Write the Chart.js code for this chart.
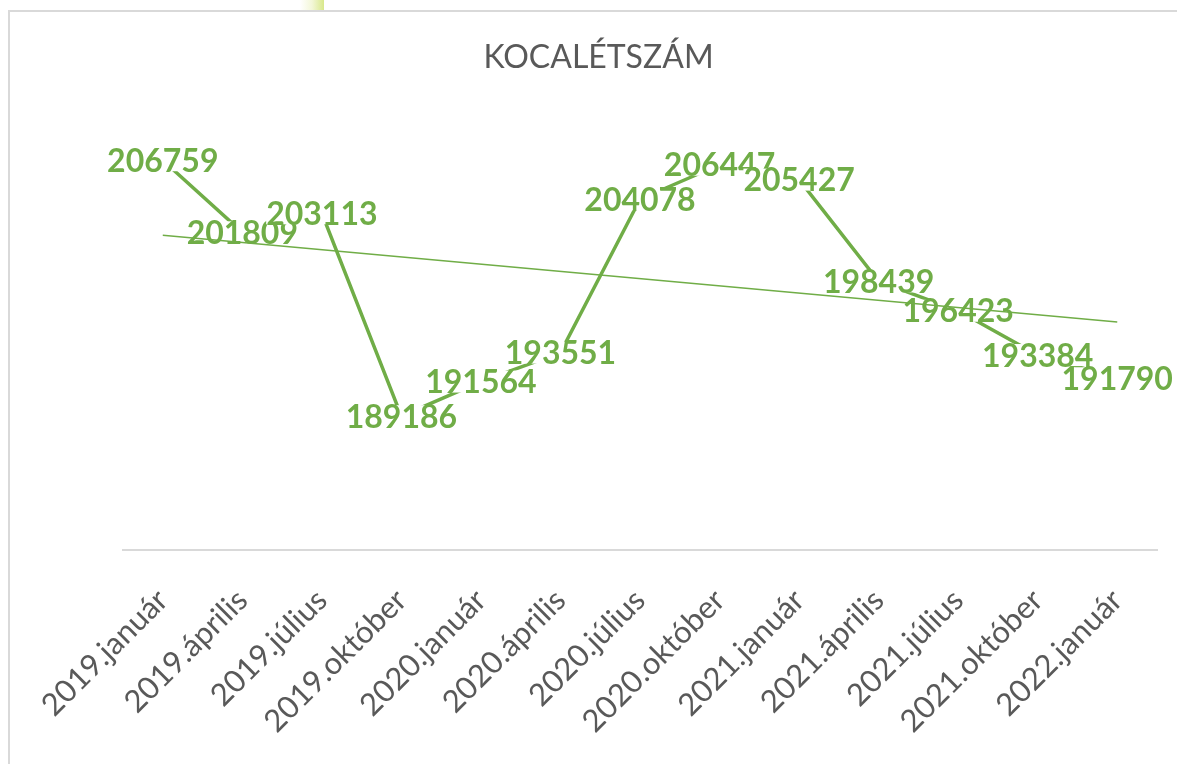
<!DOCTYPE html>
<html>
<head>
<meta charset="utf-8">
<script src="https://cdn.jsdelivr.net/npm/chart.js@4"></script>
<style>
  body { margin: 0; background: #fff; }
  #frame { position: absolute; left: 8px; top: 10px; width: 1200px; height: 800px; border: 2px solid #d9d9d9; }
  #tab { position: absolute; left: 300px; top: 0; width: 24px; height: 10px; background: linear-gradient(to right, #fff, #f3f7d8, #d8e88a); }
  #chart { position: absolute; left: 0; top: 0; }
</style>
</head>
<body>
<div id="frame"></div>
<div id="tab"></div>
<canvas id="chart" width="1177" height="764"></canvas>
<script>
const labels = ['2019.január', '2019.április', '2019.július', '2019.október',
  '2020.január', '2020.április', '2020.július', '2020.október',
  '2021.január', '2021.április', '2021.július', '2021.október', '2022.január'];
const headcount = [206759, 201809, 203113, 189186, 191564, 193551, 204078,
  206447, 205427, 198439, 196423, 193384, 191790];
// linear trendline, ends
const trend = [201600, null, null, null, null, null, null, null, null, null, null, null, 195650];

const green = '#70AD47';

// data labels centred on the points, with a white box behind them
const valueLabels = {
  id: 'valueLabels',
  afterDatasetDraw(chart, args) {
    if (args.index !== 0) return;
    const ctx = chart.ctx;
    const meta = args.meta;
    ctx.save();
    ctx.font = 'bold 32px Lato';
    ctx.textAlign = 'center';
    ctx.textBaseline = 'alphabetic';
    meta.data.forEach((pt, i) => {
      const txt = String(headcount[i]);
      const w = ctx.measureText(txt).width;
      ctx.fillStyle = '#fff';
      ctx.fillRect(pt.x - w / 2, pt.y - 11, w, 22);
      ctx.fillStyle = green;
      ctx.fillText(txt, pt.x, pt.y + 11.5);
    });
    ctx.restore();
  }
};

new Chart(document.getElementById('chart'), {
  type: 'line',
  data: {
    labels: labels,
    datasets: [{
      data: headcount,
      borderColor: green,
      borderWidth: 3.5,
      pointRadius: 0,
      tension: 0,
      order: 1
    }, {
      data: trend,
      borderColor: green,
      borderWidth: 1.5,
      pointRadius: 0,
      spanGaps: true,
      order: 0
    }]
  },
  options: {
    responsive: false,
    animation: false,
    layout: { padding: { left: 40, right: 20, top: 0, bottom: 0 } },
    plugins: {
      legend: { display: false },
      tooltip: { enabled: false },
      title: {
        display: true,
        text: 'KOCALÉTSZÁM',
        color: '#595959',
        font: { family: 'Lato', size: 32, weight: 'normal', lineHeight: 1.2 },
        padding: { top: 38, bottom: 36.6 }
      }
    },
    scales: {
      x: {
        offset: true,
        grid: { display: false },
        border: { display: true, color: '#d9d9d9', width: 2 },
        ticks: {
          color: '#595959',
          font: { family: 'Lato', size: 31 },
          minRotation: 45,
          maxRotation: 45,
          padding: 24,
          autoSkip: false
        },
        afterFit(scale) { scale.height = 214; }
      },
      y: {
        display: true,
        min: 180000,
        max: 210000,
        grid: { display: false },
        border: { display: false },
        ticks: { display: false },
        afterFit(scale) { scale.width = 83; }
      }
    }
  },
  plugins: [valueLabels]
});
</script>
</body>
</html>
